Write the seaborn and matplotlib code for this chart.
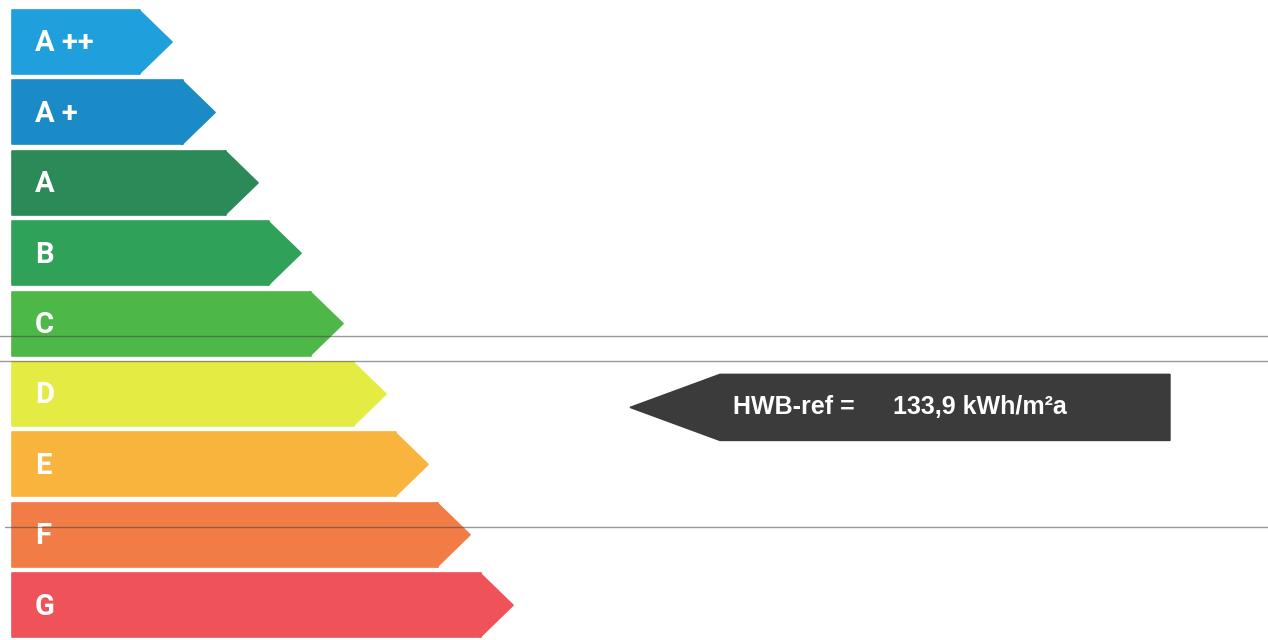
import matplotlib
matplotlib.use("Agg")
import matplotlib.pyplot as plt
import seaborn as sns
import pandas as pd
from matplotlib.patches import Polygon

# ---- data ----
classes = ["A ++", "A +", "A", "B", "C", "D", "E", "F", "G"]
bar_lengths = [128, 171, 214, 257, 299, 342, 384, 426, 469]
class_colors = ["#1fa0dc", "#1a8bc6", "#2b8a58", "#2fa158", "#4db848",
                "#e4ec44", "#f8b43c", "#f27c46", "#f0525a"]
hwb_label = "HWB-ref ="
hwb_value = "133,9 kWh/m²a"
hwb_class = "D"

sns.set_theme(style="white")
plt.rcParams["font.family"] = ["Liberation Sans", "DejaVu Sans"]

fig = plt.figure(figsize=(12.68, 6.4), dpi=100)
ax = fig.add_axes([0, 0, 1, 1])
df = pd.DataFrame({"cls": classes, "len": bar_lengths})
sns.barplot(data=df, x="len", y="cls", hue="cls", palette=class_colors,
            order=classes, hue_order=classes, orient="h", width=0.91,
            saturation=1, legend=False, ax=ax)

ax.set_xlim(-12, 1256)
ax.set_ylim(8.494, -0.597)
ax.set_axis_off()
fig.canvas.draw()

def px_per_row():
    a = ax.transData.transform((0, 0))
    b = ax.transData.transform((0, 1))
    c = ax.transData.transform((1, 0))
    return abs(b[1] - a[1]) / abs(c[0] - a[0])

ppr = px_per_row()

for p in list(ax.patches):
    w, y, h = p.get_width(), p.get_y(), p.get_height()
    if w <= 0:
        continue
    col = p.get_facecolor()
    p.set_edgecolor(col)
    p.set_linewidth(1.2)
    p.set_joinstyle("round")
    tip = h / 2 * ppr
    tri = Polygon([(w - 1, y), (w + tip, y + h / 2), (w - 1, y + h)],
                  closed=True, facecolor=col, edgecolor=col, lw=1.2,
                  joinstyle="round", zorder=p.get_zorder())
    ax.add_patch(tri)

for i, c in enumerate(classes):
    ax.text(23, i + 0.02, c, color="white", fontsize=21, fontweight="bold",
            family=["Roboto", "DejaVu Sans"],
            ha="left", va="center", zorder=5)

# HWB indicator arrow
r = classes.index(hwb_class) + 0.19
hh = 0.47
x_right, x_base = 1158, 708
tip_len = 90
arrow = Polygon([(x_right, r - hh), (x_base, r - hh), (x_base - tip_len, r),
                 (x_base, r + hh), (x_right, r + hh)], closed=True,
                facecolor="#3b3b3b", edgecolor="#3b3b3b", lw=1, zorder=4)
ax.add_patch(arrow)
ax.text(721, r, hwb_label, color="white", fontsize=18, fontweight="bold",
        ha="left", va="center", zorder=6)
ax.text(881, r, hwb_value, color="white", fontsize=18, fontweight="bold",
        ha="left", va="center", zorder=6)

# faint scan lines of the original
for yl, x0 in [(4.176, 0.0), (4.531, 0.0), (6.889, 0.004)]:
    ax.axhline(yl, xmin=x0, xmax=1, color="#444444", lw=1, alpha=0.55, zorder=7)

fig.savefig("out.png", dpi=100)
